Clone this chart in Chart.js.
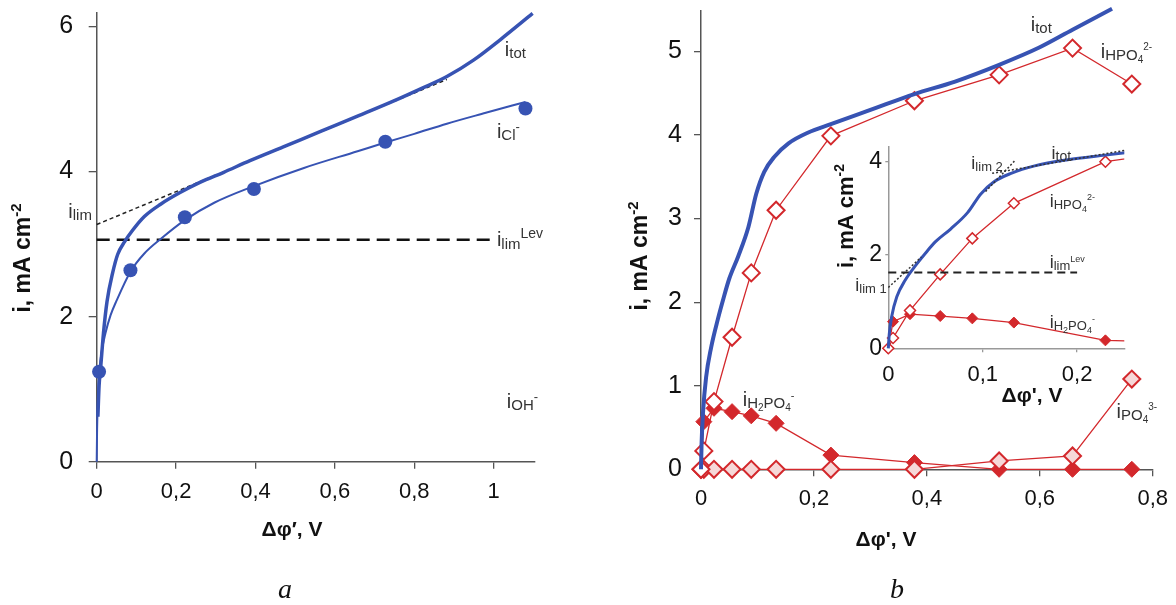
<!DOCTYPE html>
<html><head><meta charset="utf-8">
<script src="https://cdn.jsdelivr.net/npm/chart.js@4.4.0/dist/chart.umd.min.js"></script>
<style>
html,body{margin:0;padding:0;background:#fff;}
#wrap{position:relative;width:1176px;height:605px;overflow:hidden;background:#fff;}
canvas{position:absolute;left:0;top:0;}
</style></head><body>
<div id="wrap">
<canvas id="cA" width="1176" height="605"></canvas>
<canvas id="cB" width="1176" height="605"></canvas>
<canvas id="cI" width="1176" height="605"></canvas>
</div>
<script>
// ---------- Panel a data ----------
const aTotX = [0.003,0.006,0.010,0.017,0.026,0.040,0.053,0.070,0.089,0.120,0.161,0.210,0.260,0.320,0.386,0.470,0.567,0.660,0.747,0.820,0.882,0.950,1.017,1.098];
const aTotY = [0.62,1.05,1.30,1.77,2.21,2.60,2.86,3.03,3.18,3.38,3.55,3.71,3.85,3.99,4.15,4.34,4.56,4.77,4.97,5.15,5.31,5.54,5.82,6.18];
const aClFitX = [0,0.001,0.003,0.006,0.012,0.022,0.035,0.050,0.085,0.120,0.161,0.222,0.296,0.396,0.522,0.657,0.727,0.800,0.882,0.980,1.080];
const aClFitY = [0,0.45,0.85,1.20,1.50,1.77,2.02,2.22,2.62,2.87,3.07,3.33,3.57,3.80,4.05,4.28,4.40,4.52,4.66,4.81,4.96];
const aClPtsX = [0.006,0.085,0.222,0.396,0.727,1.080];
const aClPtsY = [1.24,2.64,3.37,3.76,4.41,4.87];
const aTangentX = [0,0.882];
const aTangentY = [3.27,5.27];
const aLevX = [0,1.004];
const aLevY = [3.06,3.06];
const aXTicks = [0,0.2,0.4,0.6,0.8,1];
const aYTicks = [0,2,4,6];

// ---------- Panel b data ----------
const bTotX = [0,0.001,0.0036,0.009,0.018,0.030,0.040,0.050,0.066,0.084,0.098,0.112,0.130,0.155,0.190,0.230,0.300,0.378,0.450,0.528,0.600,0.658,0.728];
const bTotY = [0,0.30,0.68,1.10,1.46,1.80,2.05,2.28,2.55,2.90,3.30,3.56,3.74,3.90,4.03,4.13,4.30,4.49,4.64,4.84,5.05,5.26,5.51];
const bPtsX = [0,0.005,0.023,0.055,0.089,0.133,0.230,0.378,0.528,0.658,0.763];
const bHPO4Y = [0,0.22,0.81,1.58,2.35,3.10,3.99,4.41,4.72,5.04,4.61];
const bH2PO4Y = [0,0.57,0.73,0.69,0.64,0.55,0.17,0.08,0,0,0];
const bPO4Y = [0,0,0,0,0,0,0,0,0.10,0.16,1.08];
const bXTicks = [0,0.2,0.4,0.6,0.8];
const bYTicks = [0,1,2,3,4,5];

// ---------- Inset data ----------
const insXTicks = [0,0.1,0.2];
const insYTicks = [0,2,4];
const insLevX = [0,0.2];
const insLevY = [1.62,1.62];
const insLim1X = [0,0.035];
const insLim1Y = [1.30,1.95];
const insLim2aX = [0.103,0.134];
const insLim2aY = [3.35,4.01];
const insLim2bX = [0.110,0.25];
const insLim2bY = [3.74,4.23];

const FONT = '"Liberation Sans", Arial, sans-serif';
const SERIF = '"Liberation Serif", "Times New Roman", serif';
const BLUE = '#3753b3';
const RED = '#d3282c';
const AXIS = '#555';

const pts = (xs, ys) => xs.map((x, i) => ({x: x, y: ys[i]}));
const fmt = v => String(Number(v.toFixed(3))).replace('.', ',');

function drawRich(ctx, x, y, parts, align, rot, color) {
  ctx.save();
  ctx.translate(x, y);
  if (rot) ctx.rotate(rot);
  ctx.fillStyle = color || '#333';
  ctx.textBaseline = 'alphabetic';
  ctx.textAlign = 'left';
  const fontOf = p => (p[3] || '') + ' ' + p[1] + 'px ' + (p[4] || FONT);
  let w = 0;
  const ws = parts.map(p => { ctx.font = fontOf(p); const m = ctx.measureText(p[0]).width; w += m; return m; });
  let cx = align === 'center' ? -w / 2 : (align === 'right' ? -w : 0);
  parts.forEach((p, i) => { ctx.font = fontOf(p); ctx.fillText(p[0], cx, p[2] || 0); cx += ws[i]; });
  ctx.restore();
}

function fixScale(w, h) {
  return function (s) {
    if (w != null) s.width = w;
    if (h != null) s.height = h;
    s.paddingTop = 0; s.paddingBottom = 0; s.paddingLeft = 0; s.paddingRight = 0;
  };
}
function setTicks(arr) {
  return function (s) { s.ticks = arr.map(v => ({value: v})); };
}
function axis(opts) {
  return {
    type: 'linear', min: opts.min, max: opts.max, position: opts.pos,
    afterBuildTicks: setTicks(opts.ticks),
    afterFit: fixScale(opts.w, opts.h),
    grid: {display: true, drawOnChartArea: false, drawTicks: true, tickLength: opts.tl,
           color: opts.color || AXIS, tickColor: opts.color || AXIS, lineWidth: 1.3},
    border: {display: true, color: opts.color || AXIS, width: 1.5},
    ticks: {color: '#111', padding: opts.pad, font: {family: FONT, size: opts.fs},
            callback: v => fmt(v), maxRotation: 0, autoSkip: false}
  };
}

function labelPlugin(id, labels, extra) {
  return {
    id: id,
    afterDraw(chart) {
      const ctx = chart.ctx, xs = chart.scales.x, ys = chart.scales.y;
      labels.forEach(l => {
        drawRich(ctx, xs.getPixelForValue(l.x), ys.getPixelForValue(l.y) + 6, l.parts, l.align || 'left', 0, '#333');
      });
      if (extra) extra(ctx);
    }
  };
}

const baseOpts = {
  responsive: false, animation: false, devicePixelRatio: 1, events: [],
  plugins: {legend: {display: false}, tooltip: {enabled: false}},
};

// ---------- Chart a ----------
const aLabels = [
  {x: 1.028, y: 5.68, parts: [['i',20,0],['tot',15,2]]},
  {x: 1.008, y: 4.55, parts: [['i',20,0],['Cl',15,2],['-',13,-7]]},
  {x: -0.012, y: 3.44, align: 'right', parts: [['i',20,0],['lim',15,2]]},
  {x: 1.008, y: 3.06, parts: [['i',20,0],['lim',15,3],['Lev',14,-8]]},
  {x: 1.033, y: 0.82, parts: [['i',20,0],['OH',15,2],['-',13,-7]]},
];
new Chart(document.getElementById('cA'), {
  type: 'scatter',
  data: {datasets: [
    {data: pts(aTotX, aTotY), showLine: true, borderColor: BLUE, borderWidth: 3.5, pointRadius: 0, cubicInterpolationMode: 'monotone', clip: false},
    {data: pts(aClFitX, aClFitY), showLine: true, borderColor: BLUE, borderWidth: 2, pointRadius: 0, cubicInterpolationMode: 'monotone', clip: false},
    {data: pts(aClPtsX, aClPtsY), showLine: false, pointRadius: 7, pointBackgroundColor: BLUE, pointBorderColor: BLUE, pointBorderWidth: 0, clip: false},
    {data: pts(aTangentX, aTangentY), showLine: true, borderColor: '#222', borderWidth: 1.5, borderDash: [4,3], pointRadius: 0, clip: false},
    {data: pts(aLevX, aLevY), showLine: true, borderColor: '#111', borderWidth: 2.5, borderDash: [13,7], pointRadius: 0, clip: false},
  ]},
  options: Object.assign({}, baseOpts, {
    layout: {padding: {left: 0, top: 12.7, right: 1176 - 535, bottom: 0}},
    scales: {
      x: axis({min: 0, max: 1.104, pos: 'bottom', ticks: aXTicks, h: 605 - 461.7, tl: 7, pad: 10, fs: 22}),
      y: axis({min: 0, max: 6.19, pos: 'left', ticks: aYTicks, w: 96.7, tl: 8, pad: 15.5, fs: 25}),
    }
  }),
  plugins: [labelPlugin('labA', aLabels, ctx => {
    drawRich(ctx, 30, 258, [['i, mA cm',23,0,'bold'],['-2',15,-9,'bold']], 'center', -Math.PI/2, '#111');
    drawRich(ctx, 292, 536, [['\u0394\u03c6\u2032, V',21,0,'bold']], 'center', 0, '#111');
    drawRich(ctx, 285, 598, [['a',28,0,'italic',SERIF]], 'center', 0, '#111');
  })]
});

// ---------- Chart b ----------
const bLabels = [
  {x: 0.584, y: 5.32, parts: [['i',20,0],['tot',15,2]]},
  {x: 0.708, y: 4.99, parts: [['i',20,0],['HPO',15,2],['4',10,5],['2-',10,-8]]},
  {x: 0.074, y: 0.83, parts: [['i',20,0],['H',15,2],['2',10,5],['PO',15,2],['4',10,5],['-',11,-7]]},
  {x: 0.736, y: 0.68, parts: [['i',20,0],['PO',15,2],['4',10,5],['3-',10,-8]]},
];
new Chart(document.getElementById('cB'), {
  type: 'scatter',
  data: {datasets: [
    {data: pts(bTotX, bTotY), showLine: true, borderColor: BLUE, borderWidth: 4, pointRadius: 0, cubicInterpolationMode: 'monotone', clip: false},
    {data: pts(bPtsX, bHPO4Y), showLine: true, borderColor: RED, borderWidth: 1.3, pointStyle: 'rectRot', pointRadius: 8.5, pointBackgroundColor: '#fff', pointBorderColor: RED, pointBorderWidth: 2, clip: false},
    {data: pts(bPtsX, bPO4Y), showLine: true, borderColor: RED, borderWidth: 1.3, pointStyle: 'rectRot', pointRadius: 8.5, pointBackgroundColor: '#f6d8d8', pointBorderColor: RED, pointBorderWidth: 2, clip: false},
    {data: pts(bPtsX, bH2PO4Y), showLine: true, borderColor: RED, borderWidth: 1.3, pointStyle: 'rectRot', pointRadius: 8, pointBackgroundColor: RED, pointBorderColor: RED, pointBorderWidth: 1, clip: false},
  ]},
  options: Object.assign({}, baseOpts, {
    layout: {padding: {left: 0, top: 5, right: 1176 - 1152.7, bottom: 0}},
    scales: {
      x: axis({min: 0, max: 0.8, pos: 'bottom', ticks: bXTicks, h: 605 - 469.3, tl: 7, pad: 9.5, fs: 22}),
      y: axis({min: 0, max: 5.49, pos: 'left', ticks: bYTicks, w: 701, tl: 7, pad: 12, fs: 25}),
    }
  }),
  plugins: [labelPlugin('labB', bLabels, ctx => {
    drawRich(ctx, 647, 256, [['i, mA cm',23,0,'bold'],['-2',15,-9,'bold']], 'center', -Math.PI/2, '#111');
    drawRich(ctx, 886, 546, [['\u0394\u03c6\', V',21,0,'bold']], 'center', 0, '#111');
    drawRich(ctx, 897, 598, [['b',28,0,'italic',SERIF]], 'center', 0, '#111');
  })]
});

// ---------- Inset ----------
const iLabels = [
  {x: 0.173, y: 4.18, parts: [['i',18,0],['tot',14,2]]},
  {x: 0.088, y: 3.96, parts: [['i',18,0],['lim 2',13,2]]},
  {x: 0.171, y: 3.14, parts: [['i',18,0],['HPO',13,2],['4',9,5],['2-',9,-7]]},
  {x: 0.171, y: 1.85, parts: [['i',18,0],['lim',13,2],['Lev',9,-6]]},
  {x: -0.035, y: 1.35, parts: [['i',18,0],['lim 1',13,2]]},
  {x: 0.171, y: 0.57, parts: [['i',18,0],['H',13,2],['2',9,5],['PO',13,2],['4',9,5],['-',9,-6]]},
];
const iClip = {left: 10, top: 10, right: 0, bottom: 10};
new Chart(document.getElementById('cI'), {
  type: 'scatter',
  data: {datasets: [
    {data: pts(insLim1X, insLim1Y), showLine: true, borderColor: '#333', borderWidth: 1.5, borderDash: [2,2], pointRadius: 0, clip: false},
    {data: pts(insLim2aX, insLim2aY), showLine: true, borderColor: '#333', borderWidth: 1.5, borderDash: [2,2], pointRadius: 0, clip: false},
    {data: pts(insLim2bX, insLim2bY), showLine: true, borderColor: '#333', borderWidth: 1.5, borderDash: [2,2], pointRadius: 0, clip: false},
    {data: pts(bTotX, bTotY), showLine: true, borderColor: BLUE, borderWidth: 3, pointRadius: 0, cubicInterpolationMode: 'monotone', clip: iClip},
    {data: pts(insLevX, insLevY), showLine: true, borderColor: '#222', borderWidth: 2, borderDash: [8,5], pointRadius: 0, clip: false},
    {data: pts(bPtsX, bHPO4Y), showLine: true, borderColor: RED, borderWidth: 1.3, pointStyle: 'rectRot', pointRadius: 5.5, pointBackgroundColor: '#fff', pointBorderColor: RED, pointBorderWidth: 1.5, clip: iClip},
    {data: pts(bPtsX, bH2PO4Y), showLine: true, borderColor: RED, borderWidth: 1.3, pointStyle: 'rectRot', pointRadius: 5.5, pointBackgroundColor: RED, pointBorderColor: RED, pointBorderWidth: 1, clip: iClip},
  ]},
  options: Object.assign({}, baseOpts, {
    layout: {padding: {left: 0, top: 146.7, right: 1176 - 1124.3, bottom: 0}},
    scales: {
      x: axis({min: 0, max: 0.25, pos: 'bottom', ticks: insXTicks, h: 605 - 348.3, tl: 4, pad: 9.5, fs: 22, color: '#999'}),
      y: axis({min: 0, max: 4.31, pos: 'left', ticks: insYTicks, w: 888.3, tl: 3, pad: 3.3, fs: 23, color: '#999'}),
    }
  }),
  plugins: [labelPlugin('labI', iLabels, ctx => {
    drawRich(ctx, 853, 216, [['i, mA cm',22,0,'bold'],['-2',14,-9,'bold']], 'center', -Math.PI/2, '#111');
    drawRich(ctx, 1032, 402, [['\u0394\u03c6\', V',21,0,'bold']], 'center', 0, '#111');
  })]
});
</script>
</body></html>
